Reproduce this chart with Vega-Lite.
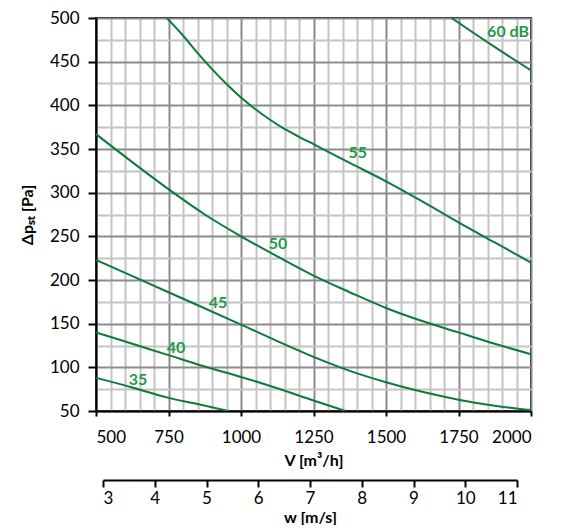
{
  "$schema": "https://vega.github.io/schema/vega-lite/v6.json",
  "padding": {"left": 18, "top": 8, "right": 5, "bottom": 0},
  "config": {
    "font": "Lato",
    "view": {"stroke": "black", "strokeWidth": 2},
    "axis": {"labelFont": "Lato", "titleFont": "Lato", "labelColor": "black", "titleColor": "black", "labelFontSize": 17, "titleFontSize": 16, "titleFontWeight": "bold"}
  },
  "datasets": {
    "curves": [
      {"dB": "35", "V": 500, "p": 88}, {"dB": "35", "V": 625, "p": 77}, {"dB": "35", "V": 750, "p": 65}, {"dB": "35", "V": 850, "p": 58}, {"dB": "35", "V": 957, "p": 50},
      {"dB": "40", "V": 500, "p": 140}, {"dB": "40", "V": 625, "p": 127}, {"dB": "40", "V": 750, "p": 114}, {"dB": "40", "V": 875, "p": 101}, {"dB": "40", "V": 1000, "p": 89}, {"dB": "40", "V": 1125, "p": 76}, {"dB": "40", "V": 1250, "p": 62}, {"dB": "40", "V": 1360, "p": 50},
      {"dB": "45", "V": 500, "p": 223}, {"dB": "45", "V": 750, "p": 186}, {"dB": "45", "V": 1000, "p": 149}, {"dB": "45", "V": 1125, "p": 130}, {"dB": "45", "V": 1250, "p": 112}, {"dB": "45", "V": 1375, "p": 96}, {"dB": "45", "V": 1500, "p": 83}, {"dB": "45", "V": 1625, "p": 72}, {"dB": "45", "V": 1750, "p": 63}, {"dB": "45", "V": 1875, "p": 56}, {"dB": "45", "V": 2000, "p": 51},
      {"dB": "50", "V": 500, "p": 367}, {"dB": "50", "V": 625, "p": 335}, {"dB": "50", "V": 750, "p": 304}, {"dB": "50", "V": 875, "p": 275}, {"dB": "50", "V": 1000, "p": 250}, {"dB": "50", "V": 1125, "p": 227}, {"dB": "50", "V": 1250, "p": 205}, {"dB": "50", "V": 1375, "p": 186}, {"dB": "50", "V": 1500, "p": 168}, {"dB": "50", "V": 1625, "p": 153}, {"dB": "50", "V": 1750, "p": 140}, {"dB": "50", "V": 1875, "p": 127}, {"dB": "50", "V": 2000, "p": 115},
      {"dB": "55", "V": 744, "p": 500}, {"dB": "55", "V": 800, "p": 480}, {"dB": "55", "V": 850, "p": 460}, {"dB": "55", "V": 900, "p": 441.5}, {"dB": "55", "V": 950, "p": 424.5}, {"dB": "55", "V": 1000, "p": 409}, {"dB": "55", "V": 1050, "p": 395.5}, {"dB": "55", "V": 1100, "p": 383.5}, {"dB": "55", "V": 1150, "p": 373}, {"dB": "55", "V": 1200, "p": 364}, {"dB": "55", "V": 1250, "p": 355.5}, {"dB": "55", "V": 1375, "p": 334}, {"dB": "55", "V": 1500, "p": 313}, {"dB": "55", "V": 1625, "p": 290}, {"dB": "55", "V": 1750, "p": 266}, {"dB": "55", "V": 1875, "p": 243}, {"dB": "55", "V": 2000, "p": 220},
      {"dB": "60", "V": 1726, "p": 500}, {"dB": "60", "V": 1860, "p": 470}, {"dB": "60", "V": 2000, "p": 440}
    ],
    "labels": [
      {"t": "60 dB", "V": 1921, "p": 484},
      {"t": "55", "V": 1403, "p": 345},
      {"t": "50", "V": 1128, "p": 241},
      {"t": "45", "V": 921, "p": 174},
      {"t": "40", "V": 776, "p": 122},
      {"t": "35", "V": 645, "p": 86}
    ],
    "speed": [{"w": 3}, {"w": 11}]
  },
  "bounds": "flush",
  "spacing": 49,
  "resolve": {"scale": {"x": "independent"}},
  "vconcat": [
    {
      "width": 435,
      "height": 393,
      "resolve": {"axis": {"x": "independent", "y": "independent"}},
      "layer": [
        {
          "data": {"name": "curves"},
          "mark": {"type": "line", "color": "#0e7a3b", "strokeWidth": 2, "interpolate": "monotone", "clip": true},
          "encoding": {
            "x": {"field": "V", "type": "quantitative", "scale": {"domain": [500, 2000], "nice": false, "zero": false},
              "axis": {"orient": "bottom", "values": [550, 600, 650, 700, 800, 850, 900, 950, 1050, 1100, 1150, 1200, 1300, 1350, 1400, 1450, 1550, 1600, 1650, 1700, 1800, 1850, 1900, 1950], "grid": true, "gridColor": "#c4c4c4", "gridWidth": 2, "labels": false, "ticks": false, "domain": false, "title": null}},
            "y": {"field": "p", "type": "quantitative", "scale": {"domain": [50, 500], "nice": false, "zero": false},
              "axis": {"orient": "left", "values": [75, 125, 175, 225, 275, 325, 375, 425, 475], "grid": true, "gridColor": "#c4c4c4", "gridWidth": 2, "labels": false, "ticks": false, "domain": false, "title": null}},
            "detail": {"field": "dB"}
          }
        },
        {
          "data": {"name": "labels"},
          "mark": {"type": "text", "fontWeight": "bold", "fontSize": 16, "color": "#1f9a46", "font": "Lato"},
          "encoding": {
            "x": {"field": "V", "type": "quantitative", "scale": {"domain": [500, 2000], "nice": false, "zero": false},
              "axis": {"orient": "bottom", "format": "d", "values": [500, 750, 1000, 1250, 1500, 1750, 2000], "grid": true, "gridColor": "#8c8c8c", "gridWidth": 2, "domainColor": "black", "domainWidth": 2, "tickColor": "black", "tickWidth": 2, "tickSize": 5, "labelPadding": 13, "titlePadding": 7, "title": "V [m³/h]"}},
            "y": {"field": "p", "type": "quantitative", "scale": {"domain": [50, 500], "nice": false, "zero": false},
              "axis": {"orient": "left", "format": "d", "values": [50, 100, 150, 200, 250, 300, 350, 400, 450, 500], "grid": true, "gridColor": "#8c8c8c", "gridWidth": 2, "domainColor": "black", "domainWidth": 2, "tickColor": "black", "tickWidth": 2, "tickSize": 8, "labelPadding": 9, "titlePadding": 14, "title": "Δpₛₜ [Pa]"}},
            "text": {"field": "t"}
          }
        }
      ]
    },
    {
      "width": 435,
      "height": 0,
      "view": {"stroke": null},
      "data": {"name": "speed"},
      "mark": {"type": "point", "opacity": 0, "size": 0},
      "encoding": {
        "x": {"field": "w", "type": "quantitative", "scale": {"domain": [3, 11], "range": [7, 421], "nice": false, "zero": false},
          "axis": {"orient": "bottom", "format": "d", "values": [3, 4, 5, 6, 7, 8, 9, 10, 11], "grid": false, "domainColor": "black", "domainWidth": 2, "tickColor": "black", "tickWidth": 2, "tickSize": 7, "labelPadding": 3, "titlePadding": 3, "title": "w [m/s]"}}
      }
    }
  ]
}
